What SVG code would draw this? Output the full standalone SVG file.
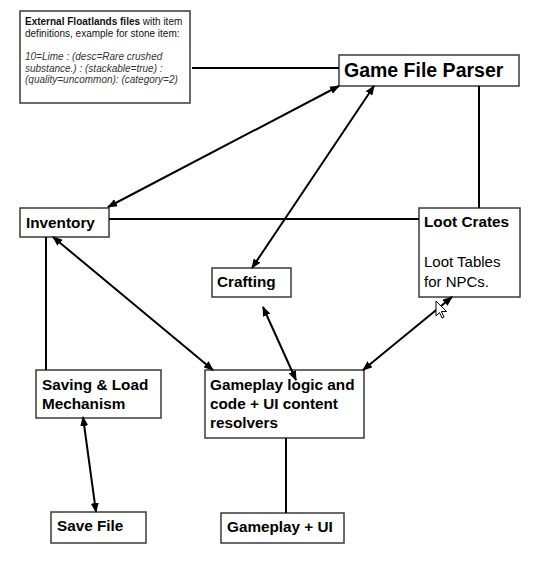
<svg xmlns="http://www.w3.org/2000/svg" width="551" height="573" viewBox="0 0 551 573">
<style>
.box{fill:#fff;stroke:#3a3a3a;stroke-width:1.5}
.lbl{font-family:"Liberation Sans",Arial,sans-serif;font-weight:bold;font-size:15.3px;fill:#000}
.sm{font-family:"Liberation Sans",Arial,sans-serif;font-size:10px;fill:#111}
.it{font-style:italic;fill:#333}
.ln{stroke:#000;stroke-width:2;fill:none}
.ar{stroke:#000;stroke-width:2;fill:none;marker-start:url(#ah);marker-end:url(#ah)}
</style>
<defs>
<marker id="ah" viewBox="0 0 10 8" refX="9" refY="4" markerWidth="10" markerHeight="8" markerUnits="userSpaceOnUse" orient="auto-start-reverse">
<path d="M0,0 L10,4 L0,8 Z" fill="#000"/>
</marker>
</defs>
<rect width="551" height="573" fill="#fff"/>
<g id="external">
<rect class="box" x="20" y="11" width="170" height="92"/>
<text class="sm" x="25" y="25"><tspan font-weight="bold">External Floatlands files</tspan> with item</text>
<text class="sm" x="25" y="37">definitions, example for stone item:</text>
<text class="sm it" x="25" y="60">10=Lime : (desc=Rare crushed</text>
<text class="sm it" x="25" y="72">substance.) : (stackable=true) :</text>
<text class="sm it" x="25" y="83">(quality=uncommon): (category=2)</text>
</g>
<g id="parser">
<rect class="box" x="339" y="55" width="180" height="31"/>
<text class="lbl" x="344" y="77" style="font-size:19.5px">Game File Parser</text>
</g>
<g id="inventory">
<rect class="box" x="20" y="208" width="89" height="29"/>
<text class="lbl" x="26" y="228">Inventory</text>
</g>
<g id="loot">
<rect class="box" x="419" y="208" width="101" height="89"/>
<text class="lbl" x="424" y="227">Loot Crates</text>
<text x="424" y="267" style="font-family:'Liberation Sans',Arial,sans-serif;font-size:15px;fill:#000">Loot Tables</text>
<text x="424" y="287" style="font-family:'Liberation Sans',Arial,sans-serif;font-size:15px;fill:#000">for NPCs.</text>
</g>
<g id="crafting">
<rect class="box" x="212" y="268" width="79" height="29"/>
<text class="lbl" x="217" y="287">Crafting</text>
</g>
<g id="saving">
<rect class="box" x="36" y="370" width="125" height="48"/>
<text class="lbl" x="42" y="390">Saving &amp; Load</text>
<text class="lbl" x="42" y="409">Mechanism</text>
</g>
<g id="gameplay">
<rect class="box" x="205" y="370" width="159" height="68"/>
<text class="lbl" x="210" y="390">Gameplay logic and</text>
<text class="lbl" x="210" y="409">code + UI content</text>
<text class="lbl" x="210" y="428">resolvers</text>
</g>
<g id="savefile">
<rect class="box" x="51" y="512" width="95" height="31"/>
<text class="lbl" x="57" y="531">Save File</text>
</g>
<g id="gameplayui">
<rect class="box" x="221" y="513" width="123" height="30"/>
<text class="lbl" x="227" y="532">Gameplay + UI</text>
</g>
<g id="connectors">
<line class="ln" x1="192" y1="68" x2="339" y2="68"/>
<line class="ln" x1="479" y1="86" x2="479" y2="208"/>
<line class="ln" x1="109" y1="219" x2="419" y2="219"/>
<line class="ln" x1="46" y1="237" x2="46" y2="370"/>
<line class="ln" x1="286" y1="438" x2="286" y2="513"/>
<line class="ar" x1="108" y1="207" x2="339" y2="86"/>
<line class="ar" x1="252" y1="268" x2="374" y2="86"/>
<line class="ar" x1="53" y1="237" x2="213" y2="370"/>
<line class="ar" x1="263" y1="307" x2="296" y2="380"/>
<line class="ar" x1="363" y1="370" x2="452" y2="297"/>
<line class="ar" x1="83" y1="417" x2="96" y2="512"/>
</g>
<polygon points="436,301 436,316 439.5,312.5 442,318 444,317 441.5,311.5 446.5,311.5" fill="#fff" stroke="#000" stroke-width="1"/>
</svg>
